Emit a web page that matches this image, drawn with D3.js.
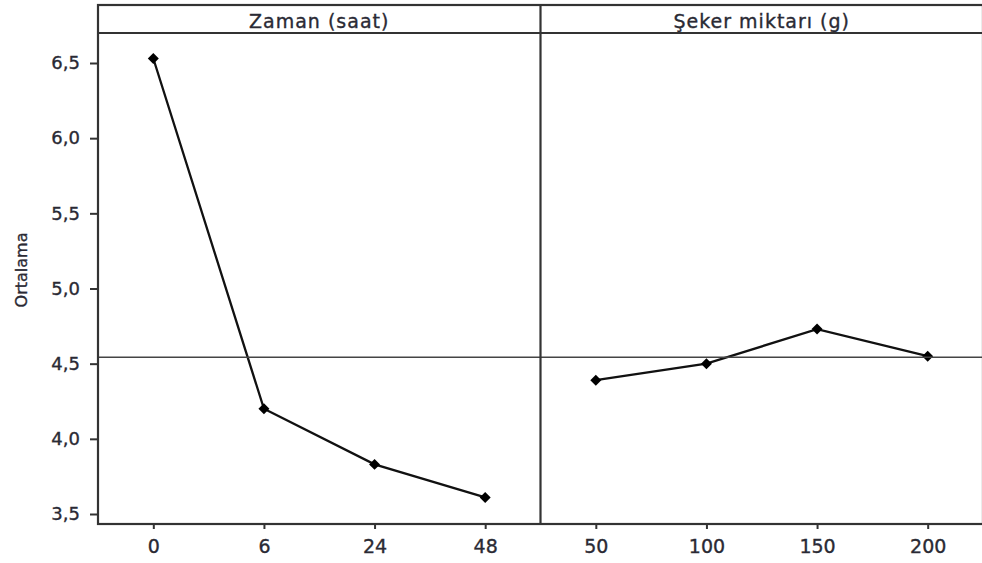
<!DOCTYPE html>
<html>
<head>
<meta charset="utf-8">
<script src="https://cdn.jsdelivr.net/npm/d3@7"></script>
<style>
  html, body { margin: 0; padding: 0; background: #fff; }
  svg { display: block; }
  text { font-family: "DejaVu Sans", Verdana, sans-serif; fill: #2a2a34; stroke: #2a2a34; stroke-width: 0.35px; }
</style>
</head>
<body>
<svg id="chart" width="982" height="563"></svg>
<script>
// Main effects plot for means: time (hours) and sugar amount (g)
const panelTitles = ["Zaman (saat)", "Şeker miktarı (g)"];
const zamanLevels = ["0", "6", "24", "48"];
const zamanMeans = [6.53, 4.20, 3.83, 3.61];
const sekerLevels = ["50", "100", "150", "200"];
const sekerMeans = [4.39, 4.50, 4.73, 4.55];
const yTicks = [3.5, 4.0, 4.5, 5.0, 5.5, 6.0, 6.5];
const yTitle = "Ortalama";

const panels = [
  { title: panelTitles[0], levels: zamanLevels, means: zamanMeans },
  { title: panelTitles[1], levels: sekerLevels, means: sekerMeans }
];

const svg = d3.select("#chart");

const frame = { left: 98, right: 983, top: 5, strip: 33, bottom: 524 };
const panelW = (frame.right - frame.left) / panels.length;

const y = d3.scaleLinear().domain([3.5, 6.5]).range([514, 63]);
const comma = d3.formatLocale({ decimal: ",", thousands: ".", grouping: [3], currency: ["", ""] }).format(".1f");

// grand mean reference line across both panels
const grandMean = d3.mean(panels.flatMap(p => p.means));

// y axis
const yAxis = svg.append("g")
  .attr("transform", `translate(${frame.left},0)`)
  .call(d3.axisLeft(y).tickValues(yTicks).tickFormat(comma).tickSize(8).tickPadding(10));
yAxis.select(".domain").remove();
yAxis.selectAll(".tick line").attr("stroke", "#333").attr("stroke-width", 2);
yAxis.selectAll(".tick text").style("font-size", "18px");

svg.append("text")
  .attr("transform", `translate(27,270) rotate(-90)`)
  .attr("text-anchor", "middle")
  .style("font-size", "16px")
  .text(yTitle);

panels.forEach((p, i) => {
  const x0 = frame.left + i * panelW;
  const x1 = x0 + panelW;
  const x = d3.scalePoint().domain(p.levels).range([x0, x1]).padding(0.5);

  const xAxis = svg.append("g")
    .attr("transform", `translate(0,${frame.bottom})`)
    .call(d3.axisBottom(x).tickSize(5).tickPadding(11));
  xAxis.select(".domain").remove();
  xAxis.selectAll(".tick line").attr("stroke", "#333").attr("stroke-width", 2);
  xAxis.selectAll(".tick text").style("font-size", "19px");

  // strip label
  svg.append("text")
    .attr("x", (x0 + x1) / 2)
    .attr("y", 28)
    .attr("text-anchor", "middle")
    .style("font-size", "19px")
    .style("letter-spacing", "1px")
    .text(p.title);

  const pts = p.levels.map((lv, k) => ({ lv, v: p.means[k] }));

  svg.append("path")
    .datum(pts)
    .attr("fill", "none")
    .attr("stroke", "#111")
    .attr("stroke-width", 2.3)
    .attr("d", d3.line().x(d => x(d.lv)).y(d => y(d.v)));

  svg.append("g").selectAll("path")
    .data(pts)
    .join("path")
    .attr("d", d3.symbol(d3.symbolSquare, 60))
    .attr("transform", d => `translate(${x(d.lv)},${y(d.v)}) rotate(45)`)
    .attr("fill", "#000");
});

// reference line at the overall mean
svg.append("line")
  .attr("x1", frame.left).attr("x2", frame.right)
  .attr("y1", y(grandMean)).attr("y2", y(grandMean))
  .attr("stroke", "#444").attr("stroke-width", 1.5);

// panel frames and strip
const fr = svg.append("g").attr("fill", "none").attr("stroke", "#333").attr("stroke-width", 2.2);
fr.append("rect")
  .attr("x", frame.left).attr("y", frame.top)
  .attr("width", frame.right - frame.left).attr("height", frame.bottom - frame.top);
fr.append("line")
  .attr("x1", frame.left).attr("x2", frame.right)
  .attr("y1", frame.strip).attr("y2", frame.strip);
for (let i = 1; i < panels.length; i++) {
  fr.append("line")
    .attr("x1", frame.left + i * panelW).attr("x2", frame.left + i * panelW)
    .attr("y1", frame.top).attr("y2", frame.bottom);
}
</script>
</body>
</html>
